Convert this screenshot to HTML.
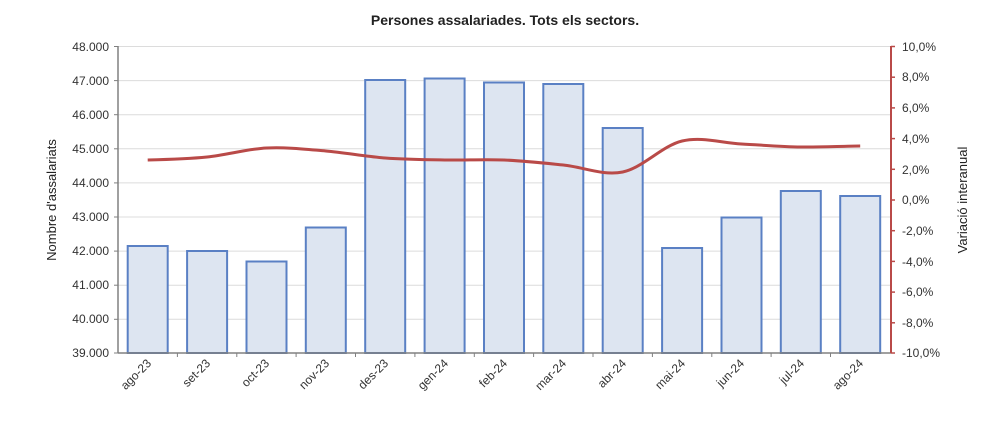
<!DOCTYPE html>
<html><head><meta charset="utf-8"><style>body{margin:0;background:#fff}svg{display:block;font-family:"Liberation Sans",Arial,sans-serif}</style></head>
<body>
<svg width="1000" height="430" viewBox="0 0 1000 430">
<text x="505" y="25" text-anchor="middle" font-size="14" font-weight="bold" fill="#222">Persones assalariades. Tots els sectors.</text>
<g stroke="#dcdcdc" stroke-width="1">
<line x1="118" y1="46.5" x2="891" y2="46.5"/><line x1="118" y1="80.6" x2="891" y2="80.6"/><line x1="118" y1="114.7" x2="891" y2="114.7"/><line x1="118" y1="148.8" x2="891" y2="148.8"/><line x1="118" y1="182.9" x2="891" y2="182.9"/><line x1="118" y1="217" x2="891" y2="217"/><line x1="118" y1="251.1" x2="891" y2="251.1"/><line x1="118" y1="285.2" x2="891" y2="285.2"/><line x1="118" y1="319.3" x2="891" y2="319.3"/>
</g>
<g fill="#dde5f1" stroke="#5a80c4" stroke-width="2">
<rect x="127.7" y="246" width="40" height="107"/>
<rect x="187.1" y="251" width="40" height="102"/>
<rect x="246.5" y="261.5" width="40" height="91.5"/>
<rect x="305.8" y="227.5" width="40" height="125.5"/>
<rect x="365.2" y="80" width="40" height="273"/>
<rect x="424.6" y="78.5" width="40" height="274.5"/>
<rect x="484" y="82.5" width="40" height="270.5"/>
<rect x="543.3" y="84" width="40" height="269"/>
<rect x="602.7" y="128" width="40" height="225"/>
<rect x="662.1" y="248" width="40" height="105"/>
<rect x="721.5" y="217.5" width="40" height="135.5"/>
<rect x="780.8" y="191" width="40" height="162"/>
<rect x="840.2" y="196" width="40" height="157"/>
</g>
<path d="M147.7,160 C167.5,159.5 187.3,159 207.1,157 C226.9,155 246.7,149 266.5,148 C286.3,147 306,149.3 325.8,151 C345.6,152.7 365.4,156.5 385.2,158 C405,159.5 424.8,159.7 444.6,160 C464.4,160.3 484.2,159.2 504,160 C523.8,160.8 543.5,163 563.3,165 C583.1,167 602.9,176 622.7,172 C642.5,168 662.3,145.7 682.1,141 C701.9,136.3 721.7,143 741.5,144 C761.3,145 781,146.7 800.8,147 C820.6,147.3 840.4,146.2 860.2,146" fill="none" stroke="#b94a48" stroke-width="3"/>
<g stroke="#808080" stroke-width="1.5">
<line x1="118" y1="46" x2="118" y2="353"/><line x1="118" y1="353" x2="891" y2="353"/>
</g>
<g stroke="#808080" stroke-width="1">
<line x1="114" y1="46.5" x2="118" y2="46.5"/><line x1="114" y1="80.6" x2="118" y2="80.6"/><line x1="114" y1="114.7" x2="118" y2="114.7"/><line x1="114" y1="148.8" x2="118" y2="148.8"/><line x1="114" y1="182.9" x2="118" y2="182.9"/><line x1="114" y1="217" x2="118" y2="217"/><line x1="114" y1="251.1" x2="118" y2="251.1"/><line x1="114" y1="285.2" x2="118" y2="285.2"/><line x1="114" y1="319.3" x2="118" y2="319.3"/><line x1="114" y1="353" x2="118" y2="353"/>
<line x1="177.4" y1="353" x2="177.4" y2="357"/><line x1="236.8" y1="353" x2="236.8" y2="357"/><line x1="296.1" y1="353" x2="296.1" y2="357"/><line x1="355.5" y1="353" x2="355.5" y2="357"/><line x1="414.9" y1="353" x2="414.9" y2="357"/><line x1="474.3" y1="353" x2="474.3" y2="357"/><line x1="533.6" y1="353" x2="533.6" y2="357"/><line x1="593" y1="353" x2="593" y2="357"/><line x1="652.4" y1="353" x2="652.4" y2="357"/><line x1="711.8" y1="353" x2="711.8" y2="357"/><line x1="771.1" y1="353" x2="771.1" y2="357"/><line x1="830.5" y1="353" x2="830.5" y2="357"/>
</g>
<g stroke="#b94a48" stroke-width="2">
<line x1="891" y1="46" x2="891" y2="353"/>
</g>
<g stroke="#b94a48" stroke-width="1.5">
<line x1="891" y1="46.5" x2="895" y2="46.5"/><line x1="891" y1="77.2" x2="895" y2="77.2"/><line x1="891" y1="107.9" x2="895" y2="107.9"/><line x1="891" y1="138.6" x2="895" y2="138.6"/><line x1="891" y1="169.3" x2="895" y2="169.3"/><line x1="891" y1="200" x2="895" y2="200"/><line x1="891" y1="230.7" x2="895" y2="230.7"/><line x1="891" y1="261.4" x2="895" y2="261.4"/><line x1="891" y1="292.1" x2="895" y2="292.1"/><line x1="891" y1="322.8" x2="895" y2="322.8"/><line x1="891" y1="353" x2="895" y2="353"/>
</g>
<g font-size="12" fill="#333" text-anchor="end">
<text x="109" y="51">48.000</text><text x="109" y="85">47.000</text><text x="109" y="119">46.000</text><text x="109" y="153">45.000</text><text x="109" y="187">44.000</text><text x="109" y="221">43.000</text><text x="109" y="255">42.000</text><text x="109" y="289">41.000</text><text x="109" y="323">40.000</text><text x="109" y="357">39.000</text>
</g>
<g font-size="12" fill="#333">
<text x="902" y="51">10,0%</text><text x="902" y="81">8,0%</text><text x="902" y="112">6,0%</text><text x="902" y="143">4,0%</text><text x="902" y="174">2,0%</text><text x="902" y="204">0,0%</text><text x="902" y="235">-2,0%</text><text x="902" y="266">-4,0%</text><text x="902" y="296">-6,0%</text><text x="902" y="327">-8,0%</text><text x="902" y="357">-10,0%</text>
</g>
<g font-size="12" fill="#333" text-anchor="end">
<text transform="translate(152,364) rotate(-45)">ago-23</text>
<text transform="translate(211,364) rotate(-45)">set-23</text>
<text transform="translate(270,364) rotate(-45)">oct-23</text>
<text transform="translate(330,364) rotate(-45)">nov-23</text>
<text transform="translate(389,364) rotate(-45)">des-23</text>
<text transform="translate(449,364) rotate(-45)">gen-24</text>
<text transform="translate(508,364) rotate(-45)">feb-24</text>
<text transform="translate(567,364) rotate(-45)">mar-24</text>
<text transform="translate(627,364) rotate(-45)">abr-24</text>
<text transform="translate(686,364) rotate(-45)">mai-24</text>
<text transform="translate(745,364) rotate(-45)">jun-24</text>
<text transform="translate(805,364) rotate(-45)">jul-24</text>
<text transform="translate(864,364) rotate(-45)">ago-24</text>
</g>
<text transform="translate(56,200) rotate(-90)" text-anchor="middle" font-size="13" fill="#222">Nombre d'assalariats</text>
<text transform="translate(967,200) rotate(-90)" text-anchor="middle" font-size="13" fill="#222">Variació interanual</text>
</svg>
</body></html>
